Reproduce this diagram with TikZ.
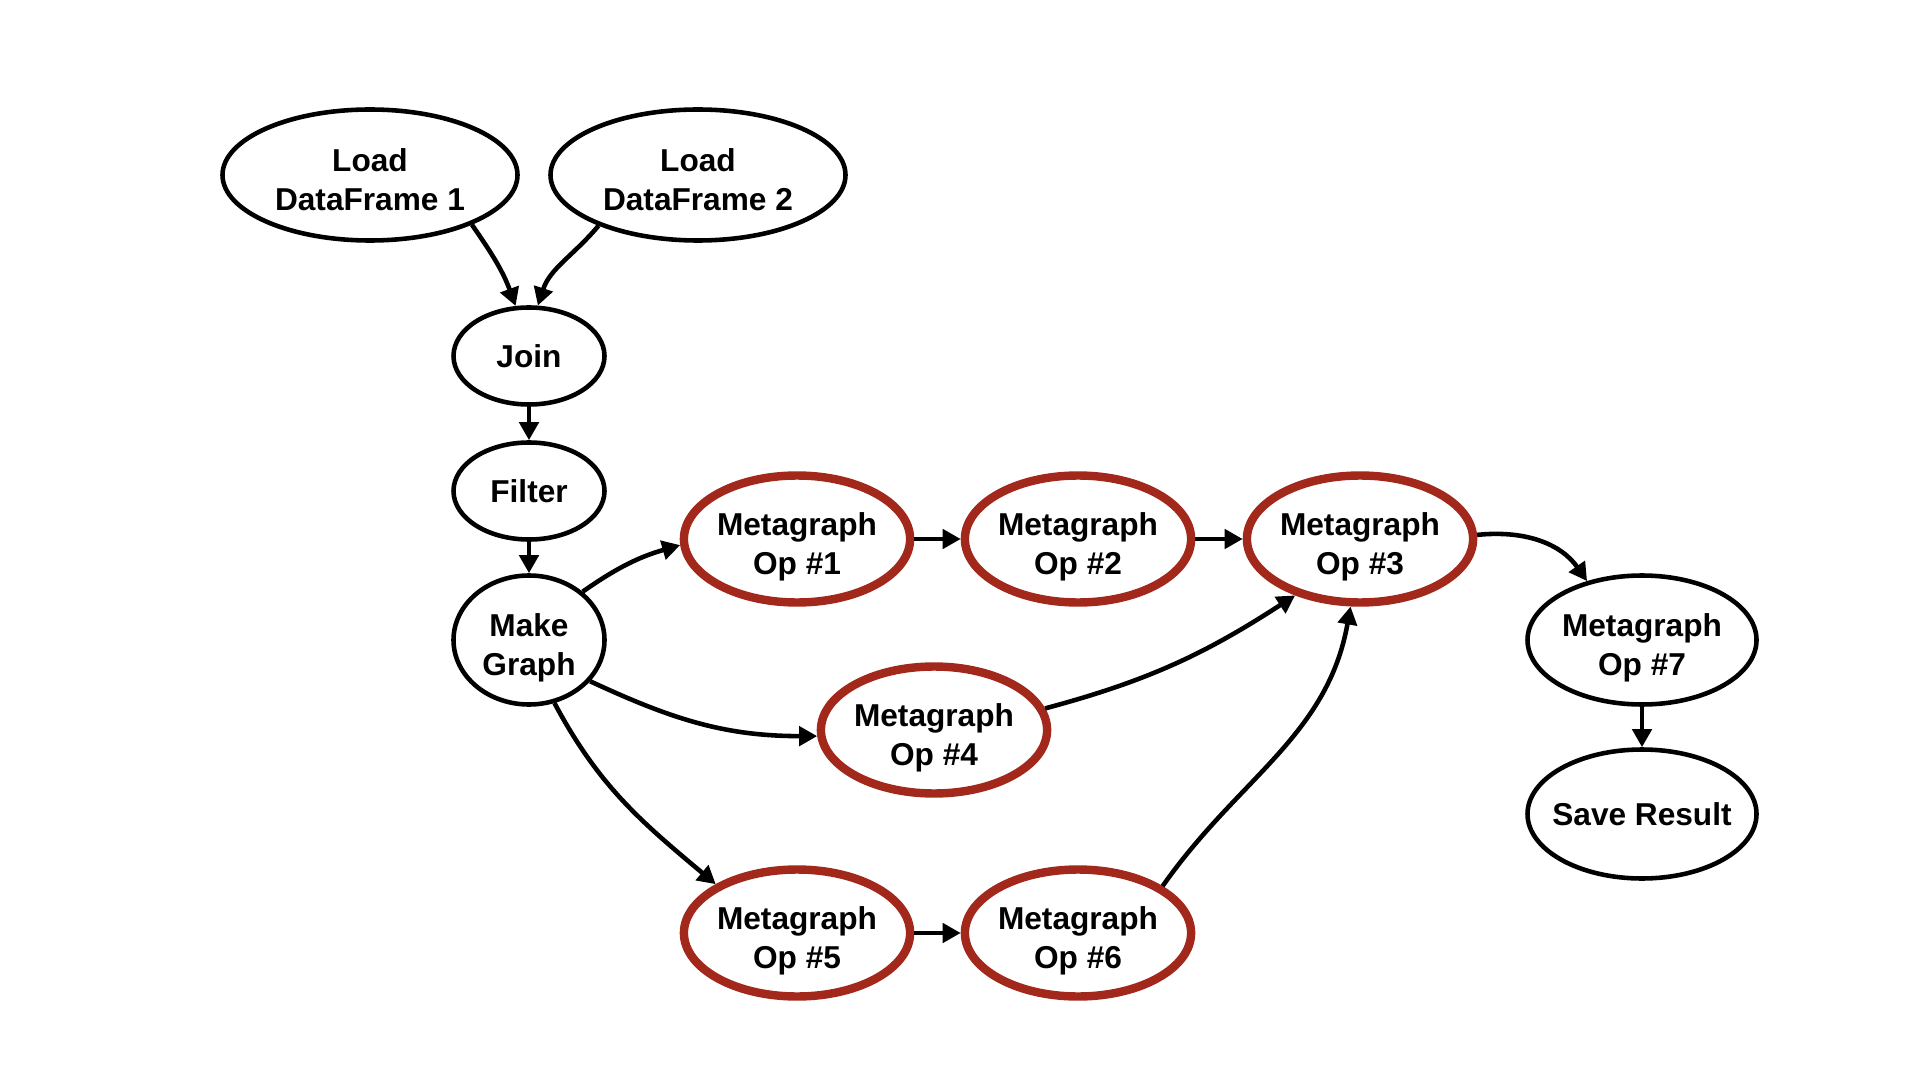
\documentclass[tikz,border=0pt]{standalone}
\usepackage{fontspec}
\setmainfont{Liberation Sans}
\usepackage{xcolor}
\usepackage{tikz}
\usetikzlibrary{arrows.meta,shapes.geometric}
\definecolor{opRed}{HTML}{A3281C}

\begin{document}
\begin{tikzpicture}[
        stage/.style={draw=black, ellipse, line width=1.3pt, inner sep=0pt, align=center, font=\fontsize{9}{11.1}\selectfont\bfseries},
        twoline/.style={text height=20pt, text depth=0pt},
        metaop/.style={stage, twoline, draw=opRed, line width=2.4pt, minimum width=2.25cm, minimum height=1.27cm},
        flow/.style={-{Triangle[length=1.8mm,width=1.9mm]}, line width=1.3pt}
    ]
        \useasboundingbox (0,0) rectangle (19.2,-10.8);

        \node[stage, twoline, minimum width=2.95cm, minimum height=1.31cm] (load1) at (3.70,-1.75) {Load\\DataFrame 1};
        \node[stage, twoline, minimum width=2.95cm, minimum height=1.31cm] (load2) at (6.98,-1.75) {Load\\DataFrame 2};
        \node[stage, minimum width=1.51cm, minimum height=0.97cm] (join) at (5.29,-3.56) {Join};
        \node[stage, minimum width=1.51cm, minimum height=0.97cm] (filter) at (5.29,-4.91) {Filter};
        \node[stage, twoline, minimum width=1.51cm, minimum height=1.29cm] (makegraph) at (5.29,-6.40) {Make\\Graph};

        \node[metaop] (op1) at (7.97,-5.39) {Metagraph\\Op \#1};
        \node[metaop] (op2) at (10.78,-5.39) {Metagraph\\Op \#2};
        \node[metaop] (op3) at (13.60,-5.39) {Metagraph\\Op \#3};
        \node[metaop] (op4) at (9.34,-7.30) {Metagraph\\Op \#4};
        \node[metaop] (op5) at (7.97,-9.33) {Metagraph\\Op \#5};
        \node[metaop] (op6) at (10.78,-9.33) {Metagraph\\Op \#6};

        \node[stage, twoline, minimum width=2.29cm, minimum height=1.29cm] (op7) at (16.42,-6.40) {Metagraph\\Op \#7};
        \node[stage, inner xsep=-2mm, minimum width=2.29cm, minimum height=1.29cm] (save) at (16.42,-8.14) {Save Result};

        \draw[flow] (load1.-26) to[out=-55, in=110] (join.105);
        \draw[flow] (load2.-153) to[out=-130, in=72] (join.80);
        \draw[flow] (join) -- (filter);
        \draw[flow] (filter) -- (makegraph);
        \draw[flow] (makegraph.42) to[out=35, in=196] (op1.183);
        \draw[flow] (makegraph.-34) to[out=-25, in=180] (op4.183);
        \draw[flow] (makegraph.-68) to[out=-62, in=140] (op5.149);
        \draw[flow] (op1) -- (op2);
        \draw[flow] (op2) -- (op3);
        \draw[flow] (op5) -- (op6);
        \draw[flow] (op4.11) to[out=15, in=213] (op3.221);
        \draw[flow] (op6.29) to[out=55, in=-100] (op3.262);
        \draw[flow] (op3.2) to[out=6, in=125] (op7.133);
        \draw[flow] (op7) -- (save);
    \end{tikzpicture}
\end{document}
